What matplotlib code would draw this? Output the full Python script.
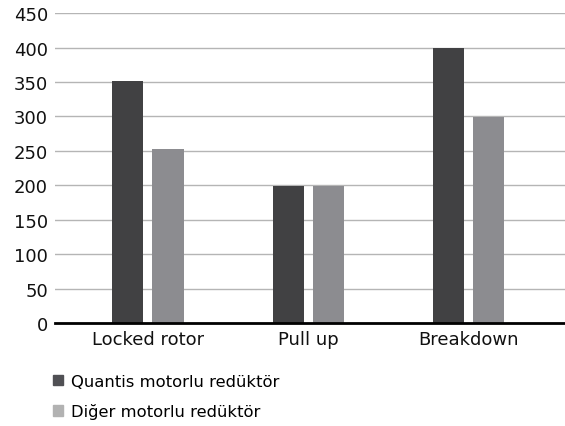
import numpy as np
import matplotlib.pyplot as plt
from matplotlib.patches import Patch

kategoriler = ["Locked rotor", "Pull up", "Breakdown"]
quantis = [351, 199, 400]
diger = [252, 199, 299]
seriler = ["Quantis motorlu redüktör", "Diğer motorlu redüktör"]
yticks = [0, 50, 100, 150, 200, 250, 300, 350, 400, 450]

plt.rcParams['font.family'] = ['DejaVu Sans']

fig = plt.figure(figsize=(5.65, 4.27), dpi=100)
ax = fig.add_axes([0.097, 0.241, 0.903, 0.726])

x = np.arange(len(kategoriler))
ax.bar(x - 0.125, quantis, width=0.195, color='#414143', zorder=3)
ax.bar(x + 0.125, diger, width=0.195, color='#8c8c90', zorder=3)

ax.set_xlim(-0.58, 2.6)
ax.set_ylim(0, 450)
ax.set_yticks(yticks)
ax.set_xticks(x)
ax.set_xticklabels(kategoriler)
ax.tick_params(length=0, labelsize=13, colors='#111111', pad=5)
ax.yaxis.grid(True, color='#b5b5b5', linewidth=1)
for s in ['top', 'right', 'left']:
    ax.spines[s].set_visible(False)
ax.spines['bottom'].set_linewidth(2)
ax.spines['bottom'].set_zorder(4)

handles = [Patch(color='#505054'), Patch(color='#b2b2b2')]
fig.legend(handles, seriler, loc='upper left', bbox_to_anchor=(0.068, 0.157),
           frameon=False, fontsize=11.8, handlelength=0.61, handleheight=0.61,
           handletextpad=0.45, labelspacing=0.9)

plt.savefig("out.png", dpi=100)
